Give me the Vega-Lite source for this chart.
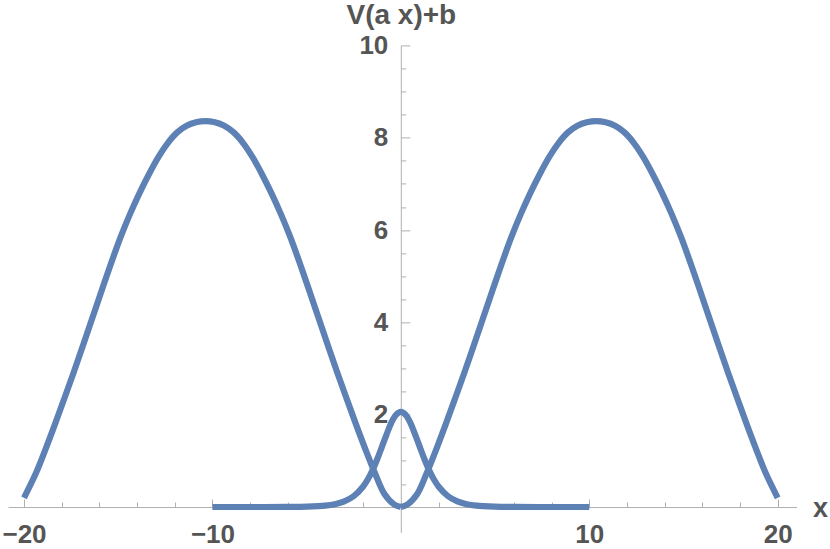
{
  "$schema": "https://vega.github.io/schema/vega-lite/v6.json",
  "autosize": "none",
  "width": 788.5,
  "height": 487,
  "padding": {"left": 8, "top": 45.4, "right": 33.5, "bottom": 16.6},
  "background": "white",
  "config": {"view": {"stroke": null}},
  "datasets": {
    "humps": [
      {"x": 0, "y": 0, "s": "right"},
      {"x": 0.37, "y": 0.06, "s": "right"},
      {"x": 0.87, "y": 0.28, "s": "right"},
      {"x": 1.37, "y": 0.73, "s": "right"},
      {"x": 1.87, "y": 1.24, "s": "right"},
      {"x": 2.37, "y": 1.78, "s": "right"},
      {"x": 2.87, "y": 2.34, "s": "right"},
      {"x": 3.37, "y": 2.91, "s": "right"},
      {"x": 3.87, "y": 3.5, "s": "right"},
      {"x": 4.37, "y": 4.1, "s": "right"},
      {"x": 4.87, "y": 4.7, "s": "right"},
      {"x": 5.37, "y": 5.29, "s": "right"},
      {"x": 5.87, "y": 5.85, "s": "right"},
      {"x": 6.37, "y": 6.35, "s": "right"},
      {"x": 6.87, "y": 6.8, "s": "right"},
      {"x": 7.37, "y": 7.21, "s": "right"},
      {"x": 7.87, "y": 7.58, "s": "right"},
      {"x": 8.37, "y": 7.885, "s": "right"},
      {"x": 8.87, "y": 8.115, "s": "right"},
      {"x": 9.37, "y": 8.26, "s": "right"},
      {"x": 9.87, "y": 8.335, "s": "right"},
      {"x": 10.37, "y": 8.36, "s": "right"},
      {"x": 10.87, "y": 8.335, "s": "right"},
      {"x": 11.37, "y": 8.26, "s": "right"},
      {"x": 11.87, "y": 8.115, "s": "right"},
      {"x": 12.37, "y": 7.885, "s": "right"},
      {"x": 12.87, "y": 7.58, "s": "right"},
      {"x": 13.37, "y": 7.21, "s": "right"},
      {"x": 13.87, "y": 6.8, "s": "right"},
      {"x": 14.37, "y": 6.35, "s": "right"},
      {"x": 14.87, "y": 5.85, "s": "right"},
      {"x": 15.37, "y": 5.29, "s": "right"},
      {"x": 15.87, "y": 4.7, "s": "right"},
      {"x": 16.37, "y": 4.1, "s": "right"},
      {"x": 16.87, "y": 3.5, "s": "right"},
      {"x": 17.37, "y": 2.91, "s": "right"},
      {"x": 17.87, "y": 2.34, "s": "right"},
      {"x": 18.37, "y": 1.78, "s": "right"},
      {"x": 18.87, "y": 1.24, "s": "right"},
      {"x": 19.37, "y": 0.73, "s": "right"},
      {"x": 20, "y": 0.2, "s": "right"},
      {"x": 0, "y": 0, "s": "left"},
      {"x": -0.37, "y": 0.06, "s": "left"},
      {"x": -0.87, "y": 0.28, "s": "left"},
      {"x": -1.37, "y": 0.73, "s": "left"},
      {"x": -1.87, "y": 1.24, "s": "left"},
      {"x": -2.37, "y": 1.78, "s": "left"},
      {"x": -2.87, "y": 2.34, "s": "left"},
      {"x": -3.37, "y": 2.91, "s": "left"},
      {"x": -3.87, "y": 3.5, "s": "left"},
      {"x": -4.37, "y": 4.1, "s": "left"},
      {"x": -4.87, "y": 4.7, "s": "left"},
      {"x": -5.37, "y": 5.29, "s": "left"},
      {"x": -5.87, "y": 5.85, "s": "left"},
      {"x": -6.37, "y": 6.35, "s": "left"},
      {"x": -6.87, "y": 6.8, "s": "left"},
      {"x": -7.37, "y": 7.21, "s": "left"},
      {"x": -7.87, "y": 7.58, "s": "left"},
      {"x": -8.37, "y": 7.885, "s": "left"},
      {"x": -8.87, "y": 8.115, "s": "left"},
      {"x": -9.37, "y": 8.26, "s": "left"},
      {"x": -9.87, "y": 8.335, "s": "left"},
      {"x": -10.37, "y": 8.36, "s": "left"},
      {"x": -10.87, "y": 8.335, "s": "left"},
      {"x": -11.37, "y": 8.26, "s": "left"},
      {"x": -11.87, "y": 8.115, "s": "left"},
      {"x": -12.37, "y": 7.885, "s": "left"},
      {"x": -12.87, "y": 7.58, "s": "left"},
      {"x": -13.37, "y": 7.21, "s": "left"},
      {"x": -13.87, "y": 6.8, "s": "left"},
      {"x": -14.37, "y": 6.35, "s": "left"},
      {"x": -14.87, "y": 5.85, "s": "left"},
      {"x": -15.37, "y": 5.29, "s": "left"},
      {"x": -15.87, "y": 4.7, "s": "left"},
      {"x": -16.37, "y": 4.1, "s": "left"},
      {"x": -16.87, "y": 3.5, "s": "left"},
      {"x": -17.37, "y": 2.91, "s": "left"},
      {"x": -17.87, "y": 2.34, "s": "left"},
      {"x": -18.37, "y": 1.78, "s": "left"},
      {"x": -18.87, "y": 1.24, "s": "left"},
      {"x": -19.37, "y": 0.73, "s": "left"},
      {"x": -20, "y": 0.2, "s": "left"}
    ],
    "bump": [
      {"x": -10, "y": 0},
      {"x": -8, "y": 0},
      {"x": -6, "y": 0.002},
      {"x": -5, "y": 0.008},
      {"x": -4, "y": 0.03},
      {"x": -3.5, "y": 0.061},
      {"x": -3, "y": 0.121},
      {"x": -2.5, "y": 0.235},
      {"x": -2, "y": 0.445},
      {"x": -1.75, "y": 0.6},
      {"x": -1.5, "y": 0.8},
      {"x": -1.25, "y": 1.04},
      {"x": -1, "y": 1.31},
      {"x": -0.75, "y": 1.58},
      {"x": -0.5, "y": 1.83},
      {"x": -0.25, "y": 2.0},
      {"x": 0, "y": 2.06},
      {"x": 0.25, "y": 2.0},
      {"x": 0.5, "y": 1.83},
      {"x": 0.75, "y": 1.58},
      {"x": 1, "y": 1.31},
      {"x": 1.25, "y": 1.04},
      {"x": 1.5, "y": 0.8},
      {"x": 1.75, "y": 0.6},
      {"x": 2, "y": 0.445},
      {"x": 2.5, "y": 0.235},
      {"x": 3, "y": 0.121},
      {"x": 3.5, "y": 0.061},
      {"x": 4, "y": 0.03},
      {"x": 5, "y": 0.008},
      {"x": 6, "y": 0.002},
      {"x": 8, "y": 0},
      {"x": 10, "y": 0}
    ]
  },
  "layer": [
    {
      "data": {"name": "bump"},
      "mark": {"type": "line", "color": "#5E81B5", "strokeWidth": 6.2, "strokeCap": "butt", "interpolate": "catmull-rom"},
      "encoding": {
        "x": {
          "field": "x", "type": "quantitative",
          "scale": {"domain": [-20.85, 21.0], "nice": false, "zero": false},
          "axis": {
            "orient": "bottom", "offset": -25.4,
            "values": [-20, -18, -16, -14, -12, -10, -8, -6, -4, -2, 2, 4, 6, 8, 10, 12, 14, 16, 18, 20],
            "labels": false, "domain": false, "grid": false,
            "tickSize": -5, "tickColor": "#b0b0b0", "tickWidth": 1,
            "title": null
          }
        },
        "y": {
          "field": "y", "type": "quantitative",
          "scale": {"domain": [-0.55, 10], "nice": false, "zero": false},
          "axis": {
            "orient": "left", "offset": -392.8,
            "values": [0.5, 1, 1.5, 2.5, 3, 3.5, 4.5, 5, 5.5, 6.5, 7, 7.5, 8.5, 9, 9.5],
            "labels": false, "domain": false, "grid": false,
            "tickSize": -5, "tickColor": "#b0b0b0", "tickWidth": 1,
            "title": null
          }
        }
      }
    },
    {
      "data": {"name": "humps"},
      "mark": {"type": "line", "color": "#5E81B5", "strokeWidth": 6.2, "strokeCap": "butt", "interpolate": "catmull-rom"},
      "encoding": {
        "detail": {"field": "s", "type": "nominal"},
        "x": {
          "field": "x", "type": "quantitative",
          "axis": {
            "orient": "bottom", "offset": -25.4,
            "values": [-20, -10, 10, 20],
            "domain": true, "domainColor": "#b0b0b0", "domainWidth": 1,
            "grid": false,
            "tickSize": -8, "tickColor": "#b0b0b0", "tickWidth": 1,
            "labelPadding": 22, "labelFlush": false, "labelOverlap": false,
            "labelFont": "Liberation Sans", "labelFontWeight": "bold", "labelFontSize": 26, "labelColor": "#555555",
            "title": "x",
            "titleFont": "Liberation Sans", "titleFontWeight": "bold", "titleFontSize": 27, "titleColor": "#555555",
            "titleAngle": 0, "titleAlign": "center", "titleBaseline": "middle",
            "titleX": 812, "titleY": 1
          }
        },
        "y": {
          "field": "y", "type": "quantitative",
          "axis": {
            "orient": "left", "offset": -392.8,
            "values": [2, 4, 6, 8, 10],
            "domain": true, "domainColor": "#b0b0b0", "domainWidth": 1,
            "grid": false,
            "tickSize": -9, "tickColor": "#b0b0b0", "tickWidth": 1,
            "labelPadding": 22, "labelFlush": false, "labelOverlap": false,
            "labelFont": "Liberation Sans", "labelFontWeight": "bold", "labelFontSize": 26, "labelColor": "#555555",
            "title": "V(a x)+b",
            "titleFont": "Liberation Sans", "titleFontWeight": "bold", "titleFontSize": 28, "titleColor": "#555555",
            "titleAngle": 0, "titleAlign": "center", "titleBaseline": "alphabetic",
            "titleX": 0, "titleY": -21.5
          }
        }
      }
    }
  ],
  "resolve": {"axis": {"x": "independent", "y": "independent"}}
}
